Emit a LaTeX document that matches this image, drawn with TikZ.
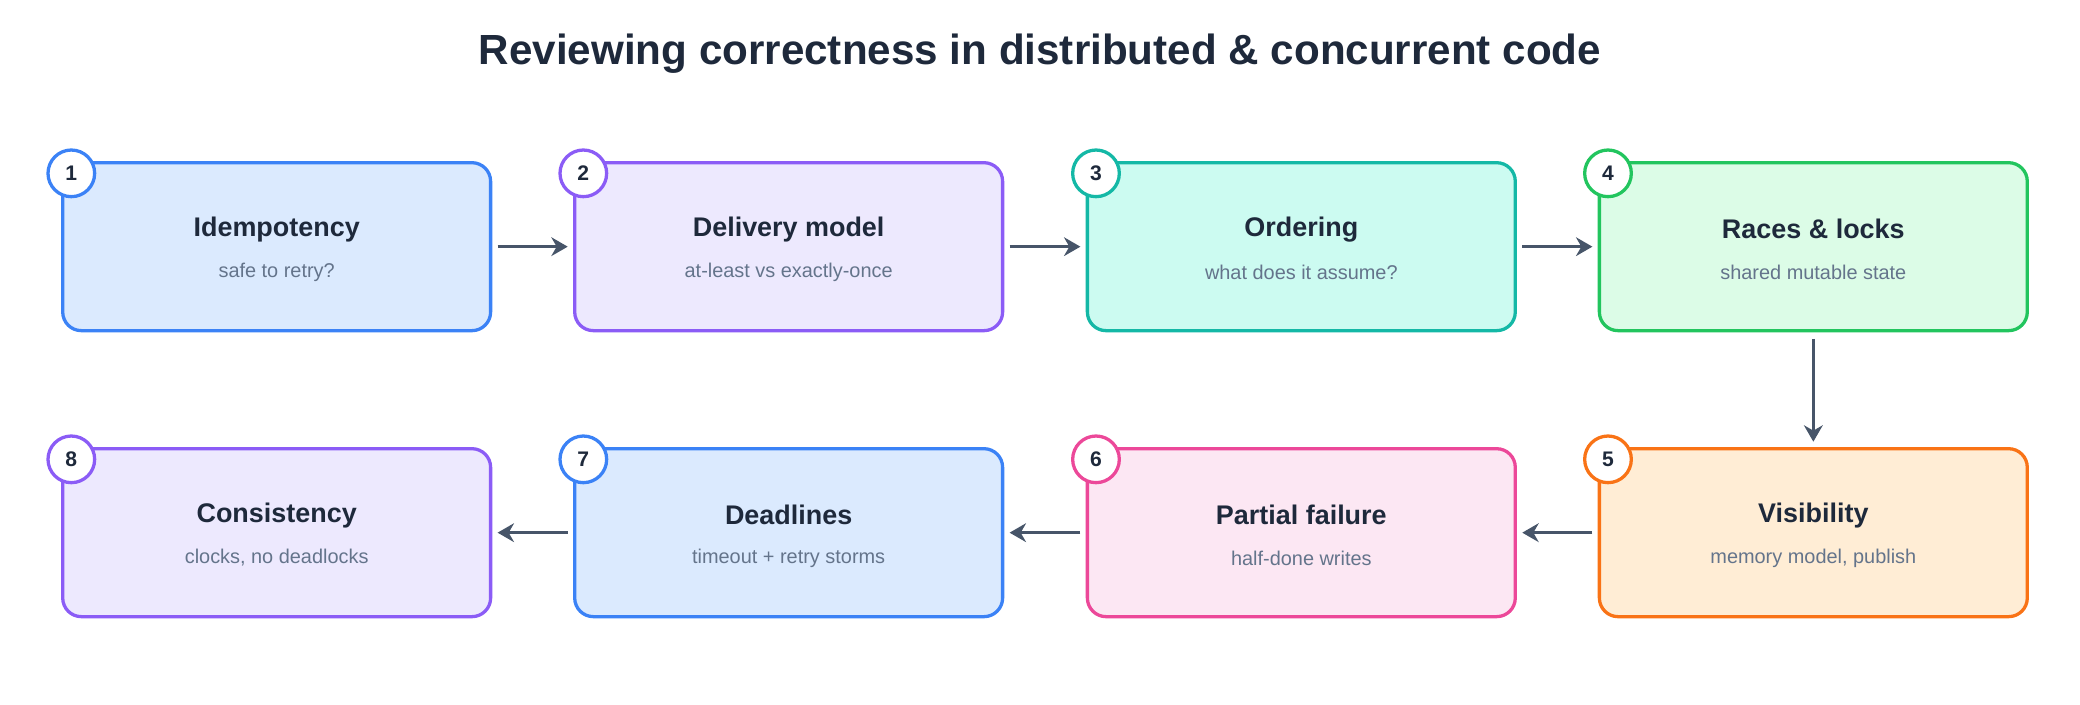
\documentclass[tikz,border=0pt]{standalone}
\usepackage{fontspec}
\setmainfont{Liberation Sans}
\usetikzlibrary{arrows.meta}
\definecolor{cblue}{HTML}{3B82F6}\definecolor{fblue}{HTML}{DBEAFE}
\definecolor{cpur}{HTML}{8B5CF6}\definecolor{fpur}{HTML}{EDE9FE}
\definecolor{cteal}{HTML}{14B8A6}\definecolor{fteal}{HTML}{CCFBF1}
\definecolor{cgrn}{HTML}{22C55E}\definecolor{fgrn}{HTML}{DCFCE7}
\definecolor{cora}{HTML}{F97316}\definecolor{fora}{HTML}{FFEDD5}
\definecolor{cpink}{HTML}{EC4899}\definecolor{fpink}{HTML}{FCE7F3}
\definecolor{tdark}{HTML}{1E293B}\definecolor{tgray}{HTML}{64748B}
\definecolor{arr}{HTML}{475569}
\begin{document}
\begin{tikzpicture}[x=0.02cm,y=-0.02cm,
 box/.style={draw=#1,line width=1.4pt,rounded corners=0.28cm,minimum width=6.42cm,minimum height=2.52cm,inner sep=0pt},
 badge/.style={circle,draw=#1,line width=1.4pt,fill=white,minimum size=0.7cm,inner sep=0pt,font=\fontsize{9}{10}\selectfont\bfseries,text=tdark},
 ttl/.style={font=\fontsize{11.5}{13}\selectfont\bfseries,text=tdark},
 sub/.style={font=\fontsize{8.5}{10}\selectfont,text=tgray},
 con/.style={draw=arr,line width=1.4pt,-{Stealth[length=7pt,width=8pt]}}]
\useasboundingbox (0,0) rectangle (1560,528);
\node[font=\fontsize{18}{21}\selectfont\bfseries,text=tdark] (title) at (780,40) {Reviewing correctness in distributed \& concurrent code};
\newcommand\stp[8]{%
 \node[box=#4,fill=#5] (b#1) at (#2,#3) {};
 \node[ttl] (t#1) at (#2,#3-13) {#6};
 \node[sub] (s#1) at (#2,#3+19) {#7};
 \node[badge=#4] (n#1) at (#2-154,#3-55) {#8};}
\stp{1}{207.5}{185}{cblue}{fblue}{Idempotency}{safe to retry?}{1}
\stp{2}{591.5}{185}{cpur}{fpur}{Delivery model}{at-least vs exactly-once}{2}
\stp{3}{976}{185}{cteal}{fteal}{Ordering}{what does it assume?}{3}
\stp{4}{1360}{185}{cgrn}{fgrn}{Races \& locks}{shared mutable state}{4}
\stp{5}{1360}{399.5}{cora}{fora}{Visibility}{memory model, publish}{5}
\stp{6}{976}{399.5}{cpink}{fpink}{Partial failure}{half-done writes}{6}
\stp{7}{591.5}{399.5}{cblue}{fblue}{Deadlines}{timeout + retry storms}{7}
\stp{8}{207.5}{399.5}{cpur}{fpur}{Consistency}{clocks, no deadlocks}{8}
\draw[con] ([xshift=0.08cm]b1.east) -- ([xshift=-0.08cm]b2.west);
\draw[con] ([xshift=0.08cm]b2.east) -- ([xshift=-0.08cm]b3.west);
\draw[con] ([xshift=0.08cm]b3.east) -- ([xshift=-0.08cm]b4.west);
\draw[con] ([yshift=-0.1cm]b4.south) -- ([yshift=0.08cm]b5.north);
\draw[con] ([xshift=-0.08cm]b5.west) -- ([xshift=0.08cm]b6.east);
\draw[con] ([xshift=-0.08cm]b6.west) -- ([xshift=0.08cm]b7.east);
\draw[con] ([xshift=-0.08cm]b7.west) -- ([xshift=0.08cm]b8.east);
\end{tikzpicture}
\end{document}
